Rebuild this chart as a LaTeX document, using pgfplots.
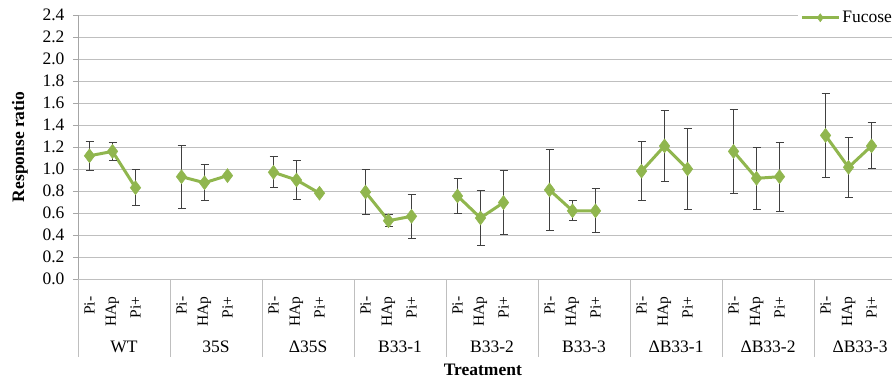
\documentclass[border=0pt]{standalone}
\usepackage{fontspec}
\setmainfont{Liberation Serif}
\usepackage{pgfplots}
\pgfplotsset{compat=1.18}
\usepackage{pgfplotstable}
\definecolor{fgreen}{HTML}{90B64E}
\definecolor{gridc}{HTML}{BFBFBF}
\definecolor{axc}{HTML}{A6A6A6}
\definecolor{errc}{HTML}{404040}

\pgfplotstableread{
x y e
0 1.12 0.13
1 1.16 0.085
2 0.83 0.165
3 nan 0
4 0.93 0.285
5 0.875 0.165
6 0.94 0
7 nan 0
8 0.97 0.14
9 0.90 0.175
10 0.78 0
11 nan 0
12 0.79 0.205
13 0.53 0.055
14 0.57 0.2
15 nan 0
16 0.755 0.16
17 0.555 0.25
18 0.695 0.29
19 nan 0
20 0.81 0.365
21 0.62 0.09
22 0.62 0.2
23 nan 0
24 0.98 0.27
25 1.21 0.32
26 1.00 0.37
27 nan 0
28 1.16 0.385
29 0.915 0.28
30 0.93 0.315
31 nan 0
32 1.305 0.38
33 1.015 0.27
34 1.21 0.21
}\fucose

\begin{document}
\begin{tikzpicture}
\path[use as bounding box] (-78pt,-106pt) rectangle (818pt,279pt);
\begin{axis}[
  scale only axis, width=814pt, height=264pt,
  at={(0,0)}, anchor=south west,
  xmin=-0.5, xmax=34.89, ymin=0, ymax=2.4,
  clip=false,
  axis x line*=bottom, axis y line*=left,
  x axis line style={draw=gridc, line width=0.8pt},
  y axis line style={draw=axc, line width=0.8pt},
  ymajorgrids, grid style={gridc, line width=0.8pt},
  ytick={0,0.2,0.4,0.6,0.8,1.0,1.2,1.4,1.6,1.8,2.0,2.2,2.4},
  y tick style={draw=axc, line width=0.8pt},
  tick align=outside, major tick length=5pt,
  x tick style={draw=none},
  y tick label style={/pgf/number format/fixed, /pgf/number format/fixed zerofill, /pgf/number format/precision=1, /pgf/number format/assume math mode=true, font=\fontsize{17.5}{20}\selectfont, xshift=-5pt},
  xtick={0,1,2,4,5,6,8,9,10,12,13,14,16,17,18,20,21,22,24,25,26,28,29,30,32,33,34},
  xticklabels={Pi-,HAp,Pi+,Pi-,HAp,Pi+,Pi-,HAp,Pi+,Pi-,HAp,Pi+,Pi-,HAp,Pi+,Pi-,HAp,Pi+,Pi-,HAp,Pi+,Pi-,HAp,Pi+,Pi-,HAp,Pi+},
  x tick label style={font=\fontsize{15.5}{17}\selectfont, rotate=90, anchor=east},
  xticklabel shift=9pt,
  ylabel={\textbf{Response ratio}},
  ylabel style={font=\fontsize{17.5}{20}\selectfont, at={(axis description cs:-0.0713,0.5)}, anchor=center},
  unbounded coords=jump,
  legend style={draw=none, fill=white, font=\fontsize{17.5}{20}\selectfont,
    at={(axis description cs:1.005,1.03)}, anchor=north east, inner xsep=2pt, inner ysep=2pt},
  legend image code/.code={
    \draw[mark repeat=2, mark phase=2, #1, mark size=4pt] plot coordinates {(0pt,0pt) (18.5pt,0pt) (37pt,0pt)};
  },
]
\addplot[color=fgreen, line width=3pt, mark=diamond*, mark size=7pt,
  mark options={fill=fgreen, draw=fgreen, line width=0.5pt},
  error bars/.cd, y dir=both, y explicit,
  error bar style={errc, line width=1pt},
  error mark options={rotate=90, errc, mark size=4pt, line width=1pt}]
  table[x=x, y=y, y error=e] {\fucose};
\addlegendentry{Fucose}
\pgfplotsinvokeforeach{-0.5,3.5,7.5,11.5,15.5,19.5,23.5,27.5,31.5}{
  \draw[gridc, line width=0.8pt] (axis cs:#1,0) -- ([yshift=-78pt]axis cs:#1,0);
}
\begin{scope}[every node/.style={font=\fontsize{17.5}{20}\selectfont}]
\node at ([yshift=-68pt]axis cs:1.5,0) {WT};
\node at ([yshift=-68pt]axis cs:5.5,0) {35S};
\node at ([yshift=-68pt]axis cs:9.5,0) {Δ35S};
\node at ([yshift=-68pt]axis cs:13.5,0) {B33-1};
\node at ([yshift=-68pt]axis cs:17.5,0) {B33-2};
\node at ([yshift=-68pt]axis cs:21.5,0) {B33-3};
\node at ([yshift=-68pt]axis cs:25.5,0) {ΔB33-1};
\node at ([yshift=-68pt]axis cs:29.5,0) {ΔB33-2};
\node at ([yshift=-68pt]axis cs:33.5,0) {ΔB33-3};
\node at ([yshift=-91pt]axis cs:17.1,0) {\textbf{Treatment}};
\end{scope}
\end{axis}
\end{tikzpicture}
\end{document}
